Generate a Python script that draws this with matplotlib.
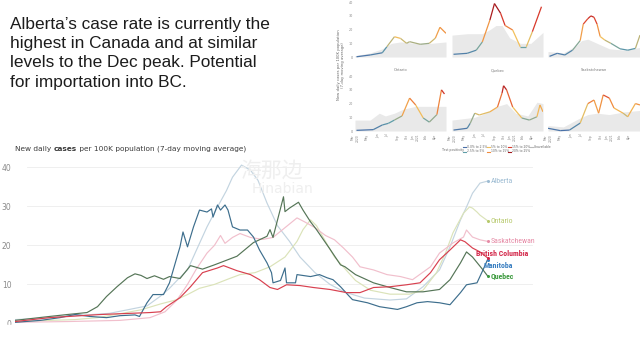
import matplotlib
matplotlib.use("Agg")
import matplotlib.pyplot as plt
import numpy as np
from matplotlib import font_manager
from matplotlib.collections import LineCollection
from matplotlib.colors import LinearSegmentedColormap, Normalize
from matplotlib.lines import Line2D
from matplotlib.patches import Rectangle

#%% data - main chart (days from start, new daily cases per 100K, 7-day avg)
ab_day = [0, 17, 30, 48, 63, 75, 88, 97, 103, 108, 115, 121, 128, 135, 141, 145, 151, 157, 162, 168,
          175, 183, 190, 200, 210, 220, 233, 250, 261, 272, 283, 290, 297, 301, 305, 310, 315]
ab_val = [1.0, 1.3, 1.8, 2.2, 2.6, 3.5, 4.5, 7.0, 9.0, 11.0, 13.7, 18.8, 24.7, 29.8, 34.0, 37.4, 40.5, 39.2, 36.6, 30.8,
          25.0, 21.0, 17.0, 13.0, 10.0, 8.0, 6.5, 6.0, 6.3, 9.4, 13.7, 19.6, 26.5, 29.8, 33.3, 35.9, 36.4]

on_day = [0, 23, 40, 55, 70, 84, 97, 107, 115, 123, 133, 143, 150, 160, 170, 180, 188, 192, 197, 201,
          207, 213, 220, 227, 237, 250, 263, 272, 281, 287, 292, 299, 303, 305, 308, 310, 315]
on_val = [0.5, 0.8, 1.0, 1.5, 2.5, 3.5, 5.0, 6.0, 7.4, 9.0, 10.0, 11.5, 12.5, 13.0, 14.5, 17.0, 21.0, 24.0, 26.5, 25.0,
          21.0, 17.0, 14.0, 11.0, 8.5, 7.5, 7.5, 8.5, 13.0, 18.0, 23.2, 28.2, 29.8, 29.5, 28.5, 27.7, 26.3]

sk_day = [0, 35, 70, 90, 100, 108, 115, 121, 128, 133, 137, 140, 145, 150, 157, 165, 172, 180, 188, 193,
          200, 207, 213, 219, 225, 230, 239, 248, 257, 265, 277, 283, 292, 299, 301, 305, 310, 315]
sk_val = [0.3, 0.5, 0.8, 1.5, 3.0, 6.0, 10.0, 14.0, 18.0, 20.0, 22.5, 20.5, 22.0, 23.0, 22.0, 21.5, 22.0, 24.5, 27.0, 26.0,
          24.5, 22.5, 21.4, 19.3, 17.0, 14.5, 13.7, 12.5, 12.0, 11.2, 14.5, 18.0, 20.6, 22.1, 23.9, 22.1, 21.4, 21.0]

bc_day = [0, 23, 57, 90, 97, 101, 110, 117, 125, 135, 139, 148, 157, 163, 170, 175, 181, 190, 199, 210,
          221, 230, 239, 250, 261, 270, 277, 283, 290, 297, 300, 305, 310, 315]
bc_val = [0.5, 1.5, 2.3, 2.8, 3.0, 4.3, 6.6, 9.4, 13.0, 14.2, 14.8, 13.5, 12.5, 11.2, 9.2, 8.7, 9.9, 9.7, 9.2, 8.7,
          7.9, 7.9, 9.2, 9.4, 9.9, 10.4, 13.0, 16.3, 18.8, 21.4, 20.9, 19.3, 18.3, 16.8]

mb_day = [0, 17, 30, 40, 50, 61, 70, 80, 83, 88, 92, 99, 103, 108, 110, 112, 115, 119, 123, 128,
          131, 132, 135, 137, 140, 142, 145, 150, 155, 159, 163, 168, 171, 172, 177, 180, 181, 187, 188, 197,
          203, 208, 212, 217, 223, 225, 235, 243, 255, 261, 268, 275, 283, 290, 297, 301, 308, 312, 315]
mb_val = [0.3, 0.8, 1.5, 2.3, 1.8, 1.5, 2.0, 2.2, 1.8, 5.3, 7.4, 7.4, 10.4, 17.0, 19.6, 23.4, 19.6, 24.7, 29.0, 28.5,
          29.3, 27.2, 30.3, 29.0, 30.3, 29.0, 24.7, 23.9, 23.9, 22.1, 18.8, 15.5, 13.0, 10.4, 11.0, 14.2, 10.4, 10.4, 12.5, 12.0,
          12.5, 11.7, 11.2, 9.4, 6.9, 6.1, 5.3, 4.3, 3.6, 4.3, 5.3, 5.6, 5.3, 4.8, 7.9, 9.9, 10.4, 13.7, 16.3]

qc_day = [0, 23, 35, 48, 55, 61, 68, 75, 80, 84, 88, 93, 99, 103, 110, 117, 125, 133, 148, 159,
          168, 170, 172, 179, 180, 183, 189, 192, 197, 201, 210, 217, 220, 227, 239, 250, 261, 272, 283, 290,
          297, 301, 305, 312, 315]
qc_val = [0.8, 1.8, 2.3, 2.8, 4.3, 6.9, 9.4, 11.7, 12.7, 12.3, 11.5, 12.2, 11.3, 12.0, 11.5, 14.8, 13.9, 15.0, 17.2, 20.7,
          22.3, 24.0, 22.0, 32.4, 28.6, 29.5, 31.0, 29.0, 26.0, 24.0, 19.0, 15.0, 14.5, 12.5, 10.4, 9.2, 8.1, 8.1, 8.7, 11.2,
          15.5, 18.3, 17.0, 13.7, 12.2]

#%% data - small multiples (week index, cases per 100K; grey = reference band)
p1_wk = [1, 10, 18, 21, 26, 30, 34, 36, 43, 49, 53, 56, 60]
p1_val = [0.2, 1.5, 3.1, 7.5, 14.8, 13.6, 10.0, 11.2, 9.3, 10.0, 13.8, 21.7, 17.3]
p1_gwk = [0, 10, 18, 24, 30, 40, 50, 60]
p1_gval = [1, 3, 6, 10, 11, 10, 10, 11]

p2_wk = [1, 10, 16, 20, 25, 28, 32, 35, 40, 45, 49, 53, 59]
p2_val = [2.0, 2.7, 5.0, 11.0, 27.0, 39.0, 32.0, 23.0, 19.7, 7.5, 7.5, 18.5, 36.7]
p2_gwk = [0, 10, 20, 25, 29, 33, 38, 45, 52, 60]
p2_gval = [16, 17, 17, 20, 23, 23, 14, 10, 10, 18]

p3_wk = [1, 6, 11, 16, 21, 23, 26, 28, 30, 32, 34, 37, 41, 47, 52, 57, 60]
p3_val = [0.5, 2.7, 1.5, 5.0, 12.0, 24.0, 28.0, 30.0, 29.0, 24.0, 15.0, 12.4, 10.0, 6.0, 5.0, 6.3, 16.0]
p3_gwk = [0, 10, 18, 22, 26, 32, 40, 50, 60]
p3_gval = [4, 3, 8, 12, 13, 10, 6, 5, 7]

p4_wk = [1, 12, 18, 22, 26, 31, 36, 40, 45, 49, 54, 57, 59]
p4_val = [0.5, 1.0, 4.4, 5.6, 8.0, 11.0, 24.0, 19.0, 9.5, 6.5, 12.0, 30.0, 27.0]
p4_gwk = [0, 10, 16, 20, 26, 32, 40, 50, 60]
p4_gval = [8, 8, 13, 11, 13, 16, 18, 18, 18]

p5_wk = [1, 10, 12, 15, 18, 25, 30, 33, 34, 36, 40, 46, 51, 56, 58, 60]
p5_val = [0.7, 2.0, 5.6, 13.0, 11.7, 14.0, 17.5, 27.7, 33.0, 30.0, 17.5, 9.5, 8.0, 10.4, 19.0, 14.0]
p5_gwk = [0, 15, 20, 30, 36, 42, 50, 56, 60]
p5_gval = [8, 10, 12, 18, 20, 13, 11, 21, 20]

p6_wk = [0, 8, 14, 21, 26, 30, 33, 36, 40, 43, 49, 52, 57, 60]
p6_val = [2.0, 0.3, 0.7, 5.8, 20.0, 22.6, 13.0, 26.3, 24.0, 16.8, 13.0, 10.4, 20.0, 19.0]
p6_gwk = [0, 10, 20, 26, 32, 40, 50, 60]
p6_gval = [4, 3, 9, 12, 13, 12, 14, 15]

panel_titles = ["Ontario", "Quebec", "Saskatchewan"]
month_ticks = ["Mar\n2020", "May", "Jun", "Jul", "Sep", "Oct", "Jan\n2021", "Feb", "Apr"]
legend_items = ["0.0% to 2.5%", "5% to 10%", "15% to 20%", "Unavailable",
                "2.5% to 5%", "10% to 15%", "20% to 25%"]

body_lines = ["Alberta\u2019s case rate is currently the",
              "highest in Canada and at similar",
              "levels to the Dec peak. Potential",
              "for importation into BC."]

#%% fonts
avail = {f.name for f in font_manager.fontManager.ttflist}
narrow = next((f for f in ["Liberation Sans Narrow", "Roboto Condensed", "Roboto"] if f in avail), "DejaVu Sans")
body_font = "Liberation Sans" if "Liberation Sans" in avail else "DejaVu Sans"

W, H = 640, 352


def px_box(x0, y0, x1, y1):
    return [x0 / W, 1 - y1 / H, (x1 - x0) / W, (y1 - y0) / H]


fig = plt.figure(figsize=(6.4, 3.52), dpi=100)
fig.patch.set_facecolor("white")

# slide text
for i, line in enumerate(body_lines):
    fig.text(10 / W, 1 - (28.5 + 19.4 * i) / H, line, family=body_font, fontsize=12.4,
             color="#1c1c1c", va="baseline", ha="left")

#%% main chart
ax = fig.add_axes(px_box(15, 160, 540, 330))
ax.set_xlim(0, 350)
ax.set_ylim(-1.66, 41.8)
for s in ax.spines.values():
    s.set_visible(False)
ax.set_xticks([])
ax.set_yticks([0, 10, 20, 30, 40])
ax.tick_params(axis="y", length=0, pad=2.5, labelsize=5.5, labelcolor="#8a8a8a")
for v in [10, 20, 30, 40]:
    ax.axhline(v, xmin=0.023, xmax=0.985, color="#ececec", lw=0.6, zorder=0)

# watermark
fig.text(240 / W, 1 - 171 / H, "海那边", family=["Noto Sans CJK SC", "DejaVu Sans"],
         fontsize=15, color="#efefef", va="center")
fig.text(252 / W, 1 - 189 / H, "Hinabian", fontsize=10, color="#efefef", va="center")

provinces = [
    ("Alberta", ab_day, ab_val, "#c3d4e0", "#9dbcd3", "normal"),
    ("Ontario", on_day, on_val, "#dbe3b9", "#b7c96c", "normal"),
    ("Saskatchewan", sk_day, sk_val, "#f1bfcc", "#e68ba6", "normal"),
    ("Quebec", qc_day, qc_val, "#557557", "#3c9a3e", "bold"),
    ("Manitoba", mb_day, mb_val, "#3d6e8d", "#3a7fc1", "bold"),
    ("British Columbia", bc_day, bc_val, "#d8404f", "#d3284a", "bold"),
]
label_pos = {"Alberta": (317, 36.4), "Ontario": (317, 26.3), "Saskatchewan": (317, 21.0),
             "British Columbia": (307.5, 17.8), "Manitoba": (312.5, 14.8), "Quebec": (317, 12.2)}

for name, d, v, lc, tc, wt in provinces:
    ax.plot(d, v, color=lc, lw=0.85, solid_joinstyle="round")
    ax.plot(d[-1], v[-1], "o", ms=2.2, color=tc, mec="none")
    lx, ly = label_pos[name]
    ax.text(lx, ly, name, color=tc, fontsize=5.6, fontweight=wt, family=narrow,
            va="center", ha="left")

# title with bold word
t1 = fig.text(15 / W, 1 - 149 / H, "New daily ", fontsize=5.3, color="#3a3a3a", va="center")
t2 = fig.text(0, 0, "cases", fontsize=5.3, color="#3a3a3a", fontweight="bold", va="center")
t3 = fig.text(0, 0, " per 100K population (7-day moving average)", fontsize=5.3, color="#3a3a3a", va="center")
fig.canvas.draw()
r = fig.canvas.get_renderer()
bb = t1.get_window_extent(r)
t2.set_position((bb.x1 / fig.bbox.width, 1 - 149 / H))
bb = t2.get_window_extent(r)
t3.set_position((bb.x1 / fig.bbox.width, 1 - 149 / H))

# crop bottom like the slide
fig.add_artist(Rectangle((0, 0), 548 / W, (H - 325) / H, transform=fig.transFigure,
                         color="white", zorder=10))

#%% small multiples (inset image)
cmap = LinearSegmentedColormap.from_list("pos", ["#4a6fa8", "#5f9ea8", "#f2c05c", "#f08c3e", "#db3b2c", "#a3171c"])
norm = Normalize(0, 34)

panels = [(p1_wk, p1_val, p1_gwk, p1_gval), (p2_wk, p2_val, p2_gwk, p2_gval), (p3_wk, p3_val, p3_gwk, p3_gval),
          (p4_wk, p4_val, p4_gwk, p4_gval), (p5_wk, p5_val, p5_gwk, p5_gval), (p6_wk, p6_val, p6_gwk, p6_gval)]
cols = [(355, 446), (452, 543), (548, 640)]
rows = [(0, 58.4, 41.6), (73.4, 132.4, 42)]

for k, (wk, val, gwk, gval) in enumerate(panels):
    row, col = divmod(k, 3)
    y0, y1, ytop = rows[row]
    x0, x1 = cols[col]
    a = fig.add_axes(px_box(x0, y0, x1, y1))
    a.fill_between(gwk, 0, gval, color="#e9e9e9", lw=0)
    pts = np.column_stack([wk, val])
    segs = np.stack([pts[:-1], pts[1:]], axis=1)
    mid = (np.array(val[:-1]) + np.array(val[1:])) / 2
    a.add_collection(LineCollection(segs, colors=cmap(norm(mid)), linewidths=0.9))
    a.set_xlim(0, 60)
    a.set_ylim(-1, ytop)
    for s in a.spines.values():
        s.set_visible(False)
    a.patch.set_alpha(0)
    if col == 0:
        a.set_yticks([0, 10, 20, 30, 40])
        a.tick_params(axis="y", length=0, pad=1.2, labelsize=2.4, labelcolor="#888888")
    else:
        a.set_yticks([])
    if row == 1:
        a.set_xticks([0, 7.5, 15, 21.5, 28, 34.5, 40, 46.5, 53])
        a.set_xticklabels(month_ticks, rotation=90, fontsize=2.2, color="#888888")
        a.tick_params(axis="x", length=0, pad=1)
        a.set_title(panel_titles[col], fontsize=2.6, color="#777777", pad=1.5)
    else:
        a.set_xticks([])

fig.text(341 / W, 1 - 65 / H, "New daily cases per 100K population\n(7-day moving average)",
         rotation=90, fontsize=2.7, color="#666666", ha="center", va="center")

# tiny legend
fig.text(442 / W, 1 - 149.5 / H, "Test positivity", fontsize=2.3, color="#666666", va="center")
leg_cols = ["#4a6fa8", "#f2c05c", "#db3b2c", "#bbbbbb", "#5f9ea8", "#f08c3e", "#a3171c"]
leg_x = [463, 487, 508, 530, 463, 487, 508]
leg_y = [147.5, 147.5, 147.5, 147.5, 151.5, 151.5, 151.5]
for lab, c, lx, ly in zip(legend_items, leg_cols, leg_x, leg_y):
    fig.add_artist(Line2D([lx / W, (lx + 3) / W], [1 - ly / H, 1 - ly / H], color=c, lw=0.8,
                          transform=fig.transFigure))
    fig.text((lx + 4) / W, 1 - ly / H, lab, fontsize=2.2, color="#666666", va="center")

fig.savefig("out.png", dpi=100, facecolor="white")
